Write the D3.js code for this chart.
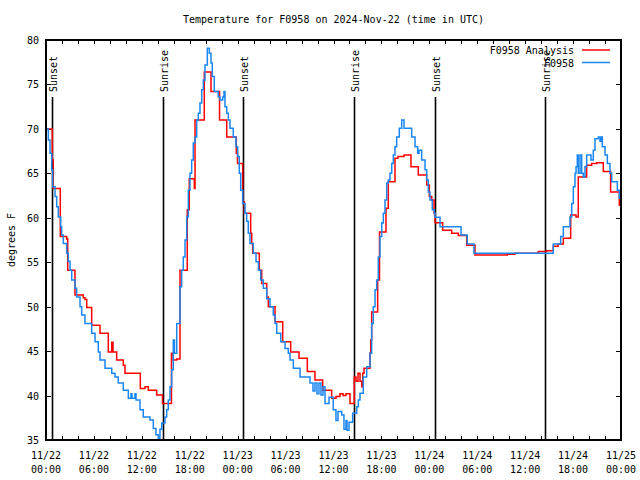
<!DOCTYPE html>
<html><head><meta charset="utf-8">
<script src="https://cdn.jsdelivr.net/npm/d3@7/dist/d3.min.js"></script>
<style>
body{margin:0;background:#fff}
text{font-family:"DejaVu Sans Mono","Liberation Mono",monospace;font-size:10px;fill:#000}
</style>
</head><body>
<svg id="chart" width="640" height="480"></svg>
<script>
// ---------- data ----------
const chartTitle = "Temperature for F0958 on 2024-Nov-22 (time in UTC)";
const yAxisLabel = "degrees F";
const seriesNames = ["F0958 Analysis", "F0958"];
const seriesColors = ["#ff0000", "#1a86f0"];

// hours since 2024-11-22 00:00 UTC
const analysisHours = [0, 0.79, 0.91, 1.79, 2.59, 2.72, 3.63, 4.67, 4.88, 5.10, 5.72, 6.76, 7.80, 8.23, 8.39, 8.85, 9.68, 9.89, 11.81, 12.40, 12.81, 13.86, 14.59, 15.71, 15.94, 16.37, 16.78, 17.69, 17.94, 18.57, 18.66, 19.82, 20.66, 21.73, 22.63, 23.83, 23.98, 24.63, 24.83, 25.63, 25.76, 25.88, 26.71, 27.01, 27.64, 27.84, 28.68, 29.64, 30.64, 31.68, 32.72, 33.68, 34.65, 35.77, 36.31, 36.81, 37.19, 37.56, 38.07, 38.60, 38.82, 39.07, 39.32, 39.53, 39.66, 39.82, 40.57, 40.66, 40.78, 41.53, 41.76, 42.57, 42.86, 43.70, 44.08, 44.83, 45.70, 46.62, 47.67, 48.00, 48.30, 48.59, 48.71, 49.67, 50.80, 51.63, 52.68, 53.72, 57.76, 58.73, 61.64, 62.70, 63.52, 64.11, 64.78, 65.70, 66.37, 66.65, 67.70, 68.33, 68.95, 69.78, 70.70, 71.79, 72];
const analysisTemps = [70.0, 66.5, 63.3, 57.9, 57.6, 54.1, 51.3, 51.0, 50.8, 49.9, 47.9, 47.0, 44.9, 46.0, 44.9, 44.0, 43.4, 42.5, 40.8, 41.0, 40.6, 40.06, 39.1, 44.75, 44.0, 44.1, 54.1, 60.9, 64.4, 63.3, 71.0, 76.4, 74.2, 71.0, 69.1, 67.25, 66.1, 61.8, 60.5, 58.25, 57.1, 56.0, 54.1, 52.6, 51.1, 50.0, 48.3, 46.06, 44.9, 44.2, 42.7, 41.75, 40.6, 39.7, 39.9, 40.2, 40.0, 40.2, 39.1, 42.1, 41.6, 42.5, 41.6, 41.0, 42.5, 43.07, 44.75, 46.25, 49.4, 53.0, 58.4, 61.06, 64.06, 66.7, 66.9, 67.06, 65.75, 64.8, 63.7, 62.4, 62.0, 60.5, 59.45, 58.6, 58.25, 58.0, 56.9, 55.8, 55.9, 56.0, 56.2, 56.3, 56.8, 57.05, 57.7, 60.3, 60.1, 64.6, 65.9, 66.1, 66.2, 65.2, 62.9, 61.4, 61.4];

const obsHours = [0, 0.29, 0.50, 0.71, 0.84, 1.13, 1.34, 1.54, 1.84, 1.96, 2.17, 2.59, 2.79, 3.01, 3.22, 3.63, 3.84, 4.26, 4.47, 4.88, 5.72, 6.14, 6.55, 6.76, 7.39, 8.23, 8.64, 9.05, 9.68, 10.31, 10.64, 10.77, 11.14, 11.27, 11.77, 12.18, 13.02, 13.44, 13.77, 14.06, 14.27, 14.49, 14.90, 15.11, 15.31, 15.53, 15.74, 15.94, 16.09, 16.37, 16.78, 16.99, 17.19, 17.41, 17.62, 17.82, 18.03, 18.24, 18.44, 18.66, 18.87, 19.07, 19.28, 19.50, 19.70, 19.91, 20.20, 20.45, 20.66, 20.82, 21.07, 21.57, 21.79, 22.13, 22.29, 22.41, 22.63, 22.83, 23.04, 23.45, 23.79, 24.00, 24.20, 24.38, 24.63, 24.92, 25.13, 25.33, 25.54, 25.96, 26.30, 26.61, 26.88, 27.21, 27.64, 28.05, 28.46, 28.68, 28.89, 29.39, 29.93, 30.34, 30.55, 30.97, 31.81, 33.06, 33.43, 33.68, 33.93, 34.18, 34.43, 34.68, 34.94, 35.44, 35.97, 36.31, 36.56, 37.03, 37.31, 37.56, 37.69, 37.94, 38.40, 38.91, 39.11, 39.32, 39.73, 40.16, 40.57, 40.78, 40.98, 41.20, 41.41, 41.61, 41.82, 42.04, 42.24, 42.45, 42.66, 42.86, 43.07, 43.29, 43.49, 43.70, 43.91, 44.24, 44.54, 44.83, 45.79, 46.21, 46.54, 46.71, 47.04, 47.46, 47.67, 47.87, 48.08, 48.37, 48.62, 48.71, 49.34, 51.97, 52.75, 53.59, 63.52, 64.45, 64.78, 65.61, 65.83, 66.03, 66.24, 66.37, 66.53, 66.65, 66.87, 67.08, 67.28, 67.49, 67.70, 68.24, 68.53, 68.74, 69.16, 69.37, 69.50, 69.66, 70.00, 70.29, 70.62, 70.84, 71.54, 71.79, 72];
const obsTemps = [70.0, 68.75, 67.25, 65.4, 63.5, 62.4, 61.25, 60.1, 59.0, 58.06, 57.1, 56.0, 55.1, 54.1, 53.0, 52.07, 51.1, 50.0, 49.06, 48.1, 47.0, 46.06, 44.9, 44.0, 43.07, 42.5, 42.1, 41.4, 40.6, 39.7, 40.2, 39.7, 40.2, 39.5, 38.4, 37.6, 37.25, 36.3, 35.6, 35.2, 36.2, 36.9, 37.6, 38.4, 39.5, 41.0, 42.9, 46.25, 44.75, 48.1, 52.25, 54.1, 55.6, 57.5, 60.1, 63.1, 65.0, 66.5, 68.4, 69.1, 71.0, 71.75, 72.9, 74.4, 75.5, 77.2, 79.06, 78.5, 77.4, 75.9, 74.2, 73.6, 73.25, 73.6, 74.2, 72.5, 71.75, 71.0, 70.06, 69.1, 68.0, 66.9, 65.0, 63.1, 61.6, 60.5, 59.6, 58.25, 57.1, 56.0, 55.06, 54.1, 53.0, 52.07, 50.9, 50.0, 49.06, 48.1, 47.0, 46.06, 45.3, 44.75, 44.0, 43.07, 42.1, 41.4, 40.5, 41.4, 40.2, 41.4, 40.06, 41.0, 39.1, 39.8, 38.4, 37.2, 38.2, 37.8, 36.2, 37.2, 36.1, 37.0, 38.0, 38.75, 39.5, 40.25, 42.1, 43.25, 44.75, 48.1, 50.0, 51.9, 53.0, 55.6, 57.9, 59.4, 60.5, 62.0, 63.9, 64.25, 65.0, 66.1, 67.06, 68.0, 69.1, 70.06, 71.0, 70.06, 69.1, 68.0, 67.25, 67.6, 66.5, 65.4, 64.25, 62.9, 62.0, 60.9, 60.5, 60.05, 59.0, 58.06, 57.05, 56.0, 57.05, 57.9, 59.0, 60.1, 61.6, 63.5, 65.0, 65.75, 67.06, 65.0, 67.06, 65.0, 64.6, 65.75, 67.06, 66.5, 67.6, 68.9, 69.1, 68.6, 69.1, 68.0, 67.06, 66.1, 65.0, 64.06, 63.1, 62.2, 62.2];

const sunHours = [0.71, 14.59, 24.71, 38.59, 48.65, 62.52];
const sunLabels = ["Sunset", "Sunrise", "Sunset", "Sunrise", "Sunset", "Sunrise"];

const yTickValues = [35, 40, 45, 50, 55, 60, 65, 70, 75, 80];
const xMajorHours = [0, 6, 12, 18, 24, 30, 36, 42, 48, 54, 60, 66, 72];
const xMinorHours = [0, 2, 4, 6, 8, 10, 12, 14, 16, 18, 20, 22, 24, 26, 28, 30, 32, 34, 36, 38, 40, 42, 44, 46, 48, 50, 52, 54, 56, 58, 60, 62, 64, 66, 68, 70, 72];

// ---------- chart ----------
const startMs = Date.UTC(2024, 10, 22, 0, 0);
const toDate = h => new Date(startMs + h * 3600e3);

const L = 46, R = 621, T = 40, B = 440;
const svg = d3.select("#chart");
const x = d3.scaleUtc().domain([toDate(0), toDate(72)]).range([L, R]);
const y = d3.scaleLinear().domain([35, 80]).range([B, T]);

const fmtDay = d3.utcFormat("%m/%d"), fmtTime = d3.utcFormat("%H:%M");

// title
svg.append("text").attr("x", (L + R) / 2).attr("y", 23).attr("text-anchor", "middle").text(chartTitle);
// y label
svg.append("text").attr("transform", `translate(15,${(T + B) / 2}) rotate(-90)`)
  .attr("text-anchor", "middle").text(yAxisLabel);

// ticks (gnuplot style, inward, mirrored)
const tickG = svg.append("g").attr("shape-rendering", "crispEdges");
tickG.append("g").attr("transform", `translate(0,${B})`)
  .call(d3.axisBottom(x).tickValues(xMinorHours.map(toDate)).tickSizeInner(-4).tickSizeOuter(0).tickFormat(""));
tickG.append("g").attr("transform", `translate(0,${T})`)
  .call(d3.axisTop(x).tickValues(xMinorHours.map(toDate)).tickSizeInner(-4).tickSizeOuter(0).tickFormat(""));
tickG.append("g").attr("transform", `translate(${L},0)`)
  .call(d3.axisLeft(y).tickValues(yTickValues).tickSizeInner(-5).tickSizeOuter(0).tickFormat(""));
tickG.append("g").attr("transform", `translate(${R},0)`)
  .call(d3.axisRight(y).tickValues(yTickValues).tickSizeInner(-5).tickSizeOuter(0).tickFormat(""));
tickG.selectAll(".domain").remove();
tickG.selectAll("line").attr("stroke", "#000");

// x labels
const xl = svg.append("g");
xMajorHours.forEach(h => {
  const t = xl.append("text").attr("x", x(toDate(h))).attr("text-anchor", "middle");
  t.append("tspan").attr("x", x(toDate(h))).attr("y", 459).text(fmtDay(toDate(h)));
  t.append("tspan").attr("x", x(toDate(h))).attr("y", 473).text(fmtTime(toDate(h)));
});
// y labels
yTickValues.forEach(v => {
  svg.append("text").attr("x", 39).attr("y", y(v) + 4).attr("text-anchor", "end").text(v);
});

// sunrise / sunset lines
sunHours.forEach((h, i) => {
  const sx = Math.round(x(toDate(h))) + 0.5;
  svg.append("line").attr("x1", sx).attr("x2", sx).attr("y1", 97).attr("y2", B)
    .attr("stroke", "#000").attr("stroke-width", 1.6);
  svg.append("text").attr("transform", `translate(${sx + 4},92) rotate(-90)`)
    .attr("text-anchor", "start").text(sunLabels[i]);
});

// series (step lines)
const line = d3.line().curve(d3.curveStepAfter)
  .x(d => x(toDate(d[0]))).y(d => y(d[1]));
const analysis = analysisHours.map((h, i) => [h, analysisTemps[i]]);
const obs = obsHours.map((h, i) => [h, obsTemps[i]]);
svg.append("path").datum(analysis).attr("d", line).attr("fill", "none")
  .attr("stroke", seriesColors[0]).attr("stroke-width", 1.5);
svg.append("path").datum(obs).attr("d", line).attr("fill", "none")
  .attr("stroke", seriesColors[1]).attr("stroke-width", 1.5);

// border
svg.append("rect").attr("x", L).attr("y", T).attr("width", R - L).attr("height", B - T)
  .attr("fill", "none").attr("stroke", "#000").attr("stroke-width", 1.5).attr("shape-rendering", "crispEdges");

// legend
const lg = svg.append("g");
seriesNames.forEach((n, i) => {
  const ly = 50 + i * 12.5;
  lg.append("text").attr("x", 574).attr("y", ly + 4).attr("text-anchor", "end").text(n);
  lg.append("line").attr("x1", 582).attr("x2", 610).attr("y1", ly).attr("y2", ly)
    .attr("stroke", seriesColors[i]).attr("stroke-width", 1.5);
});
</script>
</body></html>
